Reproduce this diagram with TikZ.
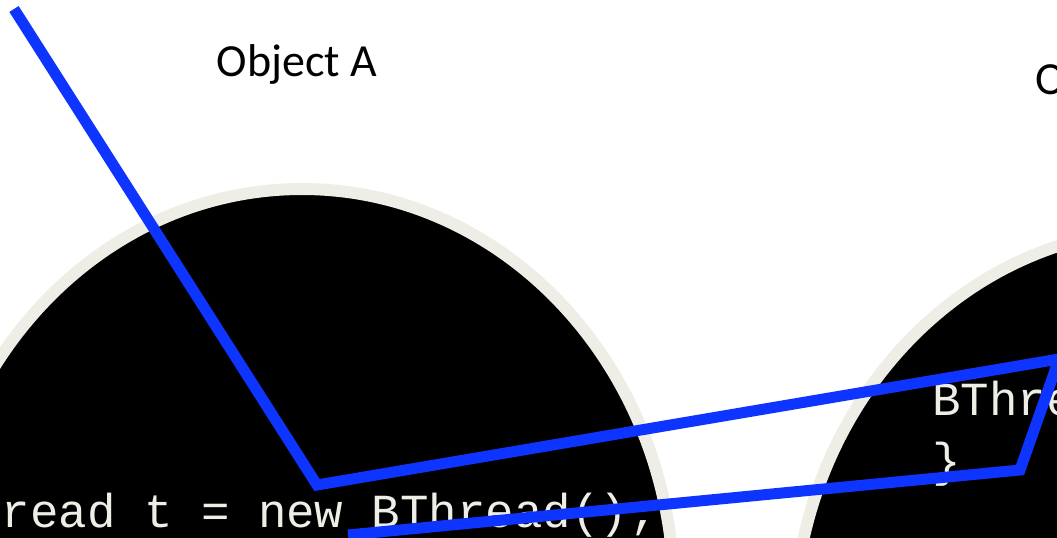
\documentclass[tikz,border=0pt]{standalone}
\usepackage{fontspec}
\setmainfont{Carlito}
\newfontfamily\codefamily{Liberation Mono}
\definecolor{wire}{HTML}{0D35FF}
\definecolor{shell}{HTML}{EEEEE6}
\newcommand{\objfont}{\fontsize{34.5}{41}\selectfont}
\newcommand{\codefont}{\codefamily\fontsize{35.6}{46}\selectfont}

\begin{document}
\begin{tikzpicture}[x=0.75pt,y=-0.75pt]
\useasboundingbox (0,0) rectangle (1057,538);
\clip (0,0) rectangle (1057,538);
\fill[white] (0,0) rectangle (1057,538);
% the two objects
\draw[shell,line width=9pt,fill=black] (302,595) ellipse [x radius=279pt,y radius=304.5pt];
\draw[shell,line width=9pt,fill=black] (1165,635) ellipse [x radius=279pt,y radius=304.5pt];
\node[anchor=base,inner sep=0,font=\objfont] (objA) at (297,77) {Object A};
\node[anchor=base west,inner sep=0,font=\objfont] (objB) at (1035,95) {Object B};
% code lines
\node[anchor=base west,inner sep=0,text=shell,font=\codefont] (newline) at (-84,527) {BThread t = new BThread();};
\node[anchor=base west,inner sep=0,text=shell,font=\codefont] (ctorline) at (932,415) {BThread()};
\node[anchor=base west,inner sep=0,text=shell,font=\codefont] (closeline) at (932,476) {\}};
% thread path
\coordinate (p1) at (14,9);
\coordinate (p2) at (317,485);
\coordinate (p3) at (1059,359);
\coordinate (p4) at (1020,470);
\coordinate (p5) at (348,535);
\draw[wire,line width=8.25pt,line join=miter] (p1) -- (p2) -- (p3) -- (p4) -- (p5);
\end{tikzpicture}
\end{document}
